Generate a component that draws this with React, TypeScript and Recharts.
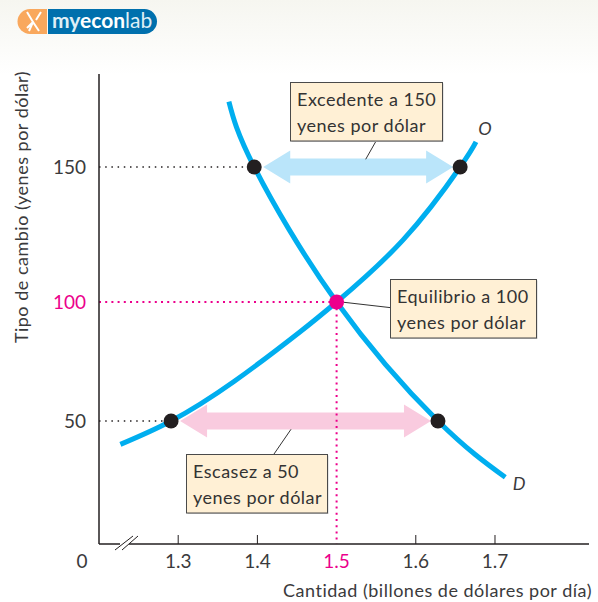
import { ComposedChart, Line, ReferenceDot, ReferenceLine, XAxis, YAxis } from "recharts";

// O = oferta, D = demanda
const supplyQuantity = [1.227, 1.291, 1.37, 1.454, 1.5, 1.584, 1.656, 1.676];
const supplyRate = [40.5, 50, 66.5, 87.5, 100, 123, 150, 159.3];
const demandQuantity = [1.364, 1.396, 1.5, 1.628, 1.713];
const demandRate = [174.2, 150, 100, 50, 27.1];

const xTicks = [1.2, 1.3, 1.4, 1.5, 1.6, 1.7];
const yTicks = [50, 100, 150];
const blackDotsX = [1.396, 1.656, 1.291, 1.628];
const blackDotsY = [150, 150, 50, 50];

const FONT = "Lato, sans-serif";
const INK = "#3a3a3c";
const PINK = "#ec008c";
const BLUE = "#00aeef";
const SPACING = 0.5;

const supplyData = supplyQuantity.map((x, i) => ({ x, y: supplyRate[i] }));
const demandData = demandQuantity.map((x, i) => ({ x, y: demandRate[i] }));

// the printed y axis is not evenly spaced, so the scale goes through the printed ticks
const yKnots = [0, 50, 100, 150, 184.4];
const yFractions = [0, 123 / 470, 242 / 470, 377 / 470, 1];

function printedScale(dom = [0, 184.4], rng = [544, 74]) {
  const s: any = (v: number) => {
    let i = 0;
    while (i < yKnots.length - 2 && v > yKnots[i + 1]) i++;
    const t = (v - yKnots[i]) / (yKnots[i + 1] - yKnots[i]);
    const f = yFractions[i] + t * (yFractions[i + 1] - yFractions[i]);
    return rng[0] + f * (rng[1] - rng[0]);
  };
  s.domain = (d?: number[]) => {
    if (!d) return dom;
    dom = d;
    return s;
  };
  s.range = (r?: number[]) => {
    if (!r) return rng;
    rng = r;
    return s;
  };
  s.copy = () => printedScale(dom, rng);
  s.ticks = () => yTicks;
  return s;
}

const XTick = ({ x, y, payload }: any) => {
  const v = payload.value;
  if (v === 1.2) {
    return (
      <text x={x - 17} y={y + 24} textAnchor="middle" fontSize={19} fontFamily={FONT} fill={INK}>
        0
      </text>
    );
  }
  const mid = v === 1.5;
  return (
    <g>
      {!mid && <line x1={x} x2={x} y1={y} y2={y - 9} stroke="#231f20" strokeWidth={1} />}
      <text x={x} y={y + 24} textAnchor="middle" fontSize={19} fontFamily={FONT} fill={mid ? PINK : INK}>
        {v.toFixed(1)}
      </text>
    </g>
  );
};

const YTick = ({ x, y, payload }: any) => (
  <text x={x - 13} y={y + 7} textAnchor="end" fontSize={19} fontFamily={FONT} fill={payload.value === 100 ? PINK : INK}>
    {payload.value}
  </text>
);

const doubleArrow = (fill: string) => (p: any) => {
  const y = p.y1;
  const a = Math.min(p.x1, p.x2) + 9;
  const b = Math.max(p.x1, p.x2) - 7;
  const pts = [
    [a, y],
    [a + 27, y - 16.5],
    [a + 27, y - 8.5],
    [b - 27, y - 8.5],
    [b - 27, y - 16.5],
    [b, y],
    [b - 27, y + 16.5],
    [b - 27, y + 8.5],
    [a + 27, y + 8.5],
    [a + 27, y + 16.5],
  ];
  return <polygon points={pts.map((q) => q.join(",")).join(" ")} fill={fill} />;
};

const NoteBox = ({ x, y, w, h, lines }: { x: number; y: number; w: number; h: number; lines: string[] }) => (
  <g>
    <rect x={x + 1} y={y + 1} width={w} height={h} fill="#cfcfcf" />
    <rect x={x} y={y} width={w} height={h} fill="#fff0d5" stroke="#4a4a4a" strokeWidth={1} />
    {lines.map((t, i) => (
      <text key={t} x={x + 6.5} y={y + 23 + i * 26} fontSize={18} letterSpacing={SPACING} fontFamily={FONT} fill="#333">
        {t}
      </text>
    ))}
  </g>
);

const Logo = () => (
  <g>
    <path d="M47 9 H30 a12.5 12.5 0 0 0 0 25 H47 Z" fill="#f9a85d" />
    <path d="M48 9 H144.5 a12.5 12.5 0 0 1 0 25 H48 Z" fill="#0070ad" />
    <path d="M27 12 L33 22 L29 31 M33 22 L39 31 M41 12 L36 20 M33 22 L27 28" stroke="#fff" strokeWidth={2} fill="none" />
    <text x={52} y={28} fontSize={21} fontFamily={FONT} fontWeight={700} fill="#dfeef6">
      my
      <tspan fill="#fff">econ</tspan>
      <tspan fontWeight={400}>lab</tspan>
    </text>
  </g>
);

export default function App() {
  return (
    <div
      style={{
        position: "absolute",
        left: 0,
        top: 0,
        width: 598,
        height: 602,
        overflow: "hidden",
        background: "linear-gradient(#f6f6f0 0, #ffffff 75px)",
      }}
    >
      <ComposedChart width={598} height={602} margin={{ top: 74, right: 9, bottom: 0, left: 0 }} style={{ position: "absolute" }}>
        <XAxis
          xAxisId={0}
          dataKey="x"
          type="number"
          domain={[1.2, 1.8187]}
          ticks={xTicks}
          tick={XTick}
          tickLine={false}
          tickSize={0}
          tickMargin={0}
          interval={0}
          height={58}
          axisLine={{ stroke: "#231f20", strokeWidth: 1.5 }}
          allowDataOverflow
        />
        <YAxis
          yAxisId={0}
          type="number"
          scale={printedScale() as any}
          domain={[0, 184.4]}
          ticks={yTicks}
          tick={YTick}
          tickLine={false}
          tickSize={0}
          tickMargin={0}
          interval={0}
          width={99}
          axisLine={{ stroke: "#231f20", strokeWidth: 1.5 }}
          allowDataOverflow
        />

        <ReferenceLine
          segment={[{ x: 1.396, y: 150 }, { x: 1.656, y: 150 }]}
          shape={doubleArrow("#bae5fa")}
        />
        <ReferenceLine
          segment={[{ x: 1.291, y: 50 }, { x: 1.628, y: 50 }]}
          shape={doubleArrow("#f9cbdf")}
        />
        <ReferenceLine segment={[{ x: 1.2, y: 150 }, { x: 1.396, y: 150 }]} stroke="#231f20" strokeWidth={1.5} strokeDasharray="1.5 4.7" />
        <ReferenceLine segment={[{ x: 1.2, y: 50 }, { x: 1.291, y: 50 }]} stroke="#231f20" strokeWidth={1.5} strokeDasharray="1.5 4.7" />
        <ReferenceLine segment={[{ x: 1.2, y: 100 }, { x: 1.5, y: 100 }]} stroke={PINK} strokeWidth={2} strokeDasharray="2 4.2" />
        <ReferenceLine segment={[{ x: 1.5, y: 100 }, { x: 1.5, y: 0 }]} stroke={PINK} strokeWidth={2} strokeDasharray="2 4.2" />

        <Line data={supplyData} dataKey="y" type="natural" stroke={BLUE} strokeWidth={5} dot={false} activeDot={false} isAnimationActive={false} />
        <Line data={demandData} dataKey="y" type="natural" stroke={BLUE} strokeWidth={5} dot={false} activeDot={false} isAnimationActive={false} />

        {blackDotsX.map((x, i) => (
          <ReferenceDot key={x} x={x} y={blackDotsY[i]} r={7.5} fill="#231f20" stroke="none" />
        ))}
        <ReferenceDot x={1.5} y={100} r={7.5} fill={PINK} stroke="none" />
      </ComposedChart>

      <svg width={598} height={602} style={{ position: "absolute", left: 0, top: 0 }}>
        <Logo />

        {/* axis break */}
        <rect x={120} y={541} width={9} height={5} fill="#fff" />
        <line x1={115} y1={550} x2={133} y2={536} stroke="#231f20" strokeWidth={1} />
        <line x1={122} y1={550} x2={138} y2={536} stroke="#231f20" strokeWidth={1} />

        {/* leaders */}
        <line x1={375.7} y1={141.7} x2={365.7} y2={159.3} stroke="#333" strokeWidth={1} />
        <line x1={344} y1={302.3} x2={391} y2={307.7} stroke="#333" strokeWidth={1} />
        <line x1={291} y1={429.3} x2={274} y2={454} stroke="#333" strokeWidth={1} />

        <NoteBox x={290.5} y={82.5} w={152} h={58.5} lines={["Excedente a 150", "yenes por dólar"]} />
        <NoteBox x={390.5} y={279.5} w={146} h={58.5} lines={["Equilibrio a 100", "yenes por dólar"]} />
        <NoteBox x={186.5} y={454.5} w={141} h={58.5} lines={["Escasez a 50", "yenes por dólar"]} />

        <text x={485} y={135} textAnchor="middle" fontSize={18} fontStyle="italic" fontFamily={FONT} fill={INK}>
          O
        </text>
        <text x={519} y={490} textAnchor="middle" fontSize={18} fontStyle="italic" fontFamily={FONT} fill={INK}>
          D
        </text>

        <text x={592} y={597} textAnchor="end" fontSize={18} letterSpacing={SPACING} fontFamily={FONT} fill={INK}>
          Cantidad (billones de dólares por día)
        </text>
        <text x={28} y={207} transform="rotate(-90 28 207)" textAnchor="middle" fontSize={18} letterSpacing={SPACING} fontFamily={FONT} fill={INK}>
          Tipo de cambio (yenes por dólar)
        </text>
      </svg>
    </div>
  );
}
